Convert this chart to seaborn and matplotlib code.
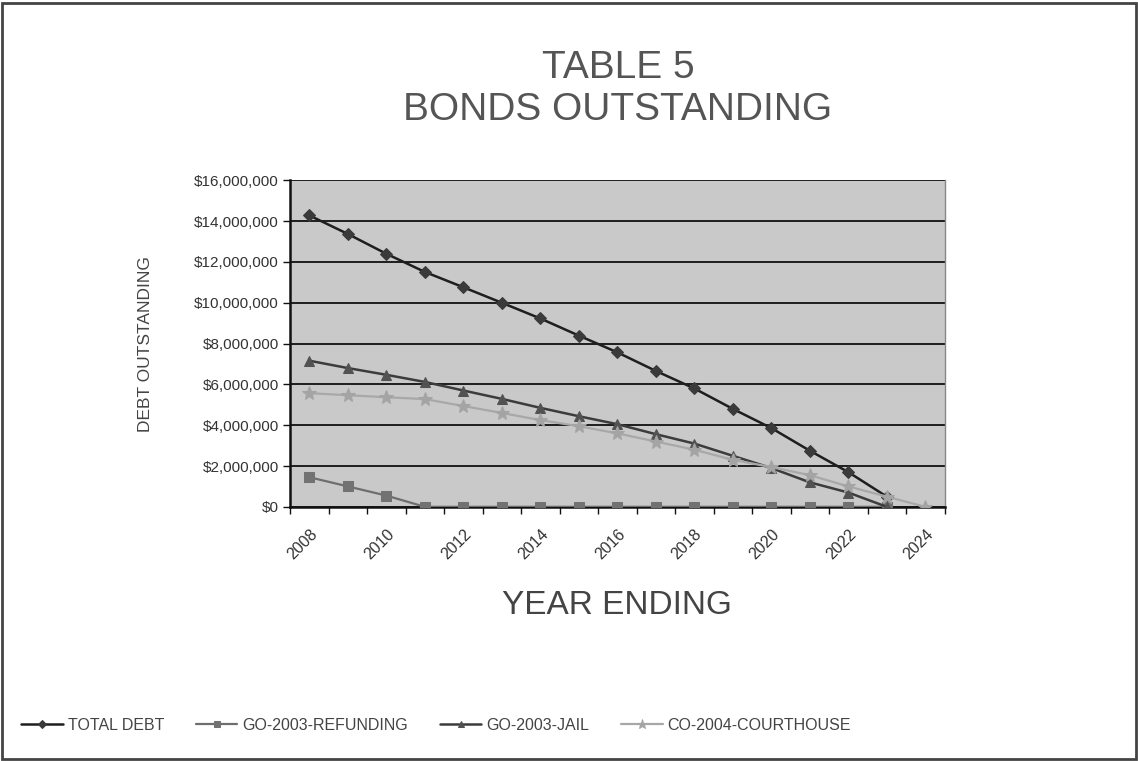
import numpy as np
import pandas as pd
import matplotlib
matplotlib.use("Agg")
import matplotlib.pyplot as plt
import seaborn as sns
from matplotlib.ticker import FuncFormatter
from matplotlib.patches import Rectangle

years = list(range(2008, 2025))
total_debt = [14280000, 13370000, 12400000, 11510000, 10760000, 10000000, 9230000, 8390000,
              7570000, 6660000, 5800000, 4800000, 3860000, 2750000, 1700000, 500000, np.nan]
go_2003_refunding = [1450000, 1000000, 550000, 0, 0, 0, 0, 0,
                     0, 0, 0, 0, 0, 0, 0, 0, np.nan]
go_2003_jail = [7160000, 6800000, 6470000, 6120000, 5700000, 5290000, 4850000, 4440000,
                4050000, 3560000, 3100000, 2500000, 1900000, 1200000, 700000, 0, np.nan]
co_2004_courthouse = [5570000, 5470000, 5370000, 5280000, 4940000, 4600000, 4250000, 3950000,
                      3600000, 3200000, 2800000, 2300000, 1950000, 1550000, 1000000, 500000, 0]
series_names = ["TOTAL DEBT", "GO-2003-REFUNDING", "GO-2003-JAIL", "CO-2004-COURTHOUSE"]
y_ticks = list(range(0, 16000001, 2000000))
x_tick_labels = [str(y) for y in range(2008, 2025, 2)]

sns.set_theme(style="white")
plt.rcParams['font.family'] = ['Liberation Sans', 'DejaVu Sans']

fig = plt.figure(figsize=(11.38, 7.61), dpi=100)
ax = fig.add_axes([0.255, 0.334, 0.575, 0.429])
ax.set_facecolor("#c9c9c9")

styles = [
    dict(color="#1e1e1e", marker="D", markersize=6.5, lw=1.8, mfc="#3a3a3a", mec="#3a3a3a"),
    dict(color="#6e6e6e", marker="s", markersize=7.5, lw=1.6, mfc="#727272", mec="#727272"),
    dict(color="#3c3c3c", marker="^", markersize=7.5, lw=1.8, mfc="#525252", mec="#525252"),
    dict(color="#a8a8a8", marker="*", markersize=10, lw=1.6, mfc="#a4a4a4", mec="#a4a4a4"),
]
all_series = [total_debt, go_2003_refunding, go_2003_jail, co_2004_courthouse]
for name, vals, st in zip(series_names, all_series, styles):
    df = pd.DataFrame({"year": years, "value": vals}).dropna()
    sns.lineplot(data=df, x="year", y="value", ax=ax, color=st["color"], lw=st["lw"],
                 marker=st["marker"], markersize=st["markersize"],
                 markerfacecolor=st["mfc"], markeredgecolor=st["mec"], label=name, zorder=3)

ax.set_xlim(2007.5, 2024.5)
ax.set_ylim(0, 16000000)
ax.set_yticks(y_ticks)
ax.yaxis.set_major_formatter(FuncFormatter(lambda v, p: "${:,.0f}".format(v)))
ax.grid(axis="y", color="#111111", lw=1.3)
ax.grid(axis="x", visible=False)
ax.set_axisbelow(True)

ax.set_xticks(list(range(2008, 2025, 2)))
ax.set_xticklabels(x_tick_labels, rotation=45, ha="right", rotation_mode="anchor",
                   fontsize=11.5, color="#333333")
ax.set_xticks([y + 0.5 for y in range(2007, 2025)], minor=True)
ax.tick_params(axis="x", which="major", length=0, pad=14)
ax.tick_params(axis="x", which="minor", length=5, width=1, color="#111111", direction="out", bottom=True)
ax.tick_params(axis="y", which="major", length=5, width=1, color="#111111", direction="out", left=True,
               labelsize=11, labelcolor="#333333", pad=3)

for side in ["left", "bottom"]:
    ax.spines[side].set_color("#111111")
    ax.spines[side].set_linewidth(1.8)
ax.spines["right"].set_color("#888888")
ax.spines["right"].set_linewidth(1)
ax.spines["top"].set_visible(False)

ax.set_xlabel("YEAR ENDING", fontsize=24, color="#444444", labelpad=20)
ax.set_ylabel("DEBT OUTSTANDING", fontsize=12.5, color="#444444", labelpad=30)

fig.text(0.543, 0.91, "TABLE 5", ha="center", va="center", fontsize=28, color="#555555")
fig.text(0.543, 0.855, "BONDS OUTSTANDING", ha="center", va="center", fontsize=28, color="#555555")

ax.legend_.remove()
h, l = ax.get_legend_handles_labels()
fig.legend(h, l, loc="center left", bbox_to_anchor=(0.006, 0.047), ncol=4, frameon=False,
           fontsize=11.5, handlelength=2.6, columnspacing=2.0, handletextpad=0.3,
           labelcolor="#444444", markerscale=0.65)

fig.patches.append(Rectangle((0.002, 0.003), 0.996, 0.993, transform=fig.transFigure,
                             fill=False, edgecolor="#444444", lw=2))

fig.savefig("out.png", dpi=100)
